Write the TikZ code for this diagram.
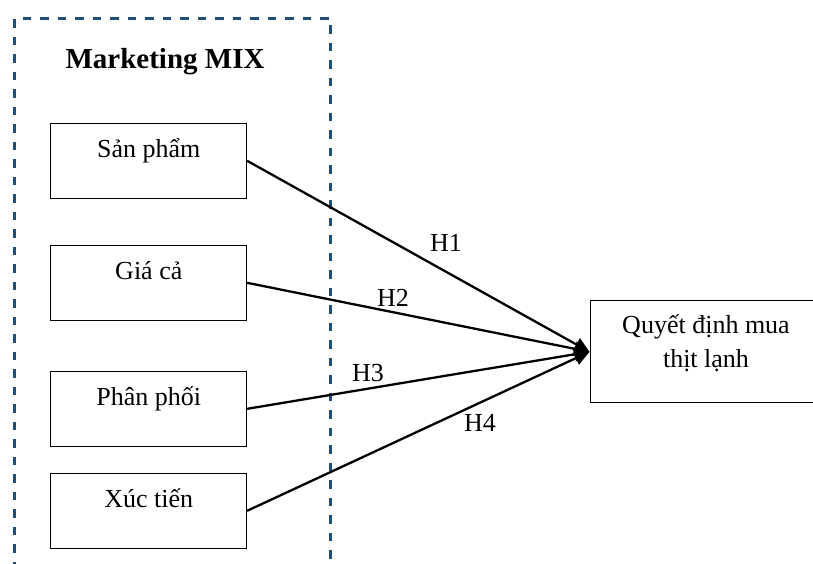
\documentclass[tikz,border=0pt]{standalone}
\usepackage{fontspec}
\setmainfont{Liberation Serif}
\usetikzlibrary{arrows.meta}
\definecolor{dashblue}{RGB}{31,78,121}
\begin{document}
\begin{tikzpicture}[x=1pt,y=1pt,
  mixbox/.style={draw=black, line width=1pt, minimum width=195.7pt, inner xsep=0pt, inner ysep=0pt,
    text height=34.5pt, text depth=40.5pt, font=\fontsize{26}{31}\selectfont},
  link/.style={line width=2.3pt, -{Triangle[length=15pt,width=14pt]}},
  hlabel/.style={font=\fontsize{26}{31}\selectfont, inner sep=0pt}]
\useasboundingbox (0,0) rectangle (813,-563);
% dashed frame
\coordinate (fbl) at (14.3,-570);
\coordinate (ftl) at (14.3,-18.3);
\coordinate (ftr) at (330.7,-18.3);
\coordinate (fbr) at (330.7,-570);
\draw[dashblue, line width=2.5pt, dash pattern=on 8.5pt off 9pt] (fbl) -- (ftl) -- (ftr) -- (fbr);
\node[font=\bfseries\fontsize{29}{34}\selectfont, anchor=base, inner sep=0pt] (title) at (165,-68.3) {Marketing MIX};
% boxes
\node[mixbox] (sp) at (148.8,-160.8) {Sản phẩm};
\node[mixbox] (gc) at (148.8,-282.8) {Giá cả};
\node[mixbox] (pp) at (148.8,-408.8) {Phân phối};
\node[mixbox] (xt) at (148.8,-510.8) {Xúc tiến};
% right box
\node[draw=black, line width=1pt, minimum width=232pt, minimum height=101.7pt, inner sep=0pt] (qd) at (706,-351.8) {};
\node[font=\fontsize{26}{34}\selectfont, align=center, inner sep=0pt] (qdtext) at (706,-343) {Quyết định mua\\thịt lạnh};
% connectors
\draw[link] (sp.east) -- (qd.west);
\draw[link] (gc.east) -- (qd.west);
\draw[link] (pp.east) -- (qd.west);
\draw[link] (xt.east) -- (qd.west);
% labels
\node[hlabel] (h1) at (446,-243) {H1};
\node[hlabel] (h2) at (393,-298) {H2};
\node[hlabel] (h3) at (368,-373) {H3};
\node[hlabel] (h4) at (480,-423) {H4};
\end{tikzpicture}
\end{document}
